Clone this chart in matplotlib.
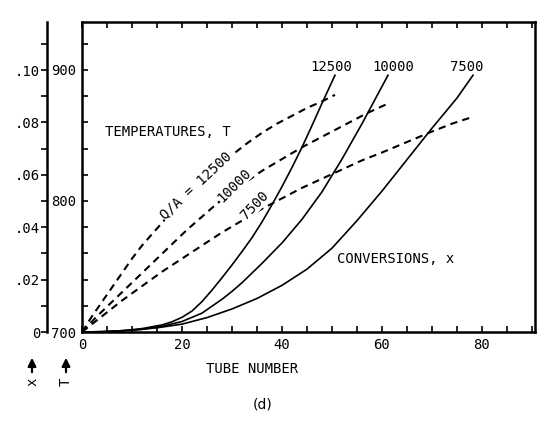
import numpy as np
import matplotlib
matplotlib.use('Agg')
import matplotlib.pyplot as plt
from matplotlib.ticker import MultipleLocator

plt.rcParams['font.family'] = 'DejaVu Sans Mono'
plt.rcParams['font.size'] = 10

# temperature curves (dashed), T vs tube number
tube_t12500 = [0, 2, 4, 6, 8, 10, 12, 15, 18, 21, 24, 27, 30, 33, 36, 39, 42, 45, 48, 50.6]
temp_12500 = [700, 712, 723, 734, 745, 756, 766, 779, 792, 804, 815, 825, 835, 844, 852, 859, 865, 871, 876, 881]
tube_t10000 = [0, 3, 6, 9, 12, 15, 18, 21, 24, 27, 30, 33, 36, 40, 44, 48, 52, 57, 61]
temp_10000 = [700, 712, 723, 734, 745, 756, 767, 778, 788, 798, 807, 815, 823, 832, 841, 849, 857, 867, 874]
tube_t7500 = [0, 4, 8, 12, 16, 20, 24, 28, 32, 36, 40, 44, 48, 52, 56, 60, 65, 70, 74, 78]
temp_7500 = [700, 712, 724, 735, 746, 756, 766, 776, 785, 794, 802, 810, 817, 824, 831, 837, 845, 853, 859, 864]

# conversion curves (solid), x vs tube number
tube_x12500 = [0, 4, 8, 12, 16, 18, 20, 22, 24, 26, 28, 30, 32, 34, 36, 38, 40, 42, 44, 46, 48, 50.6]
conv_12500 = [0, 0.0001, 0.0005, 0.0013, 0.0027, 0.0039, 0.0056, 0.0080, 0.0116, 0.0160, 0.0207,
              0.0256, 0.0307, 0.0360, 0.0420, 0.0486, 0.0555, 0.0628, 0.0705, 0.0788, 0.0873, 0.098]
tube_x10000 = [0, 4, 8, 12, 16, 20, 24, 28, 30, 32, 36, 40, 44, 48, 52, 56, 61.2]
conv_10000 = [0, 0.0001, 0.0004, 0.0010, 0.0022, 0.0040, 0.0072, 0.0125, 0.0155, 0.0188, 0.0262,
              0.0340, 0.0430, 0.0535, 0.0660, 0.0795, 0.098]
tube_x7500 = [0, 5, 10, 15, 20, 25, 30, 35, 40, 45, 50, 55, 60, 65, 70, 75, 78.2]
conv_7500 = [0, 0.0002, 0.0007, 0.0016, 0.0030, 0.0055, 0.0088, 0.0128, 0.0178, 0.0240, 0.0320,
             0.0425, 0.0538, 0.0658, 0.0778, 0.0893, 0.098]

x_ticks = [0, 20, 40, 60, 80]
t_ticks = [700, 800, 900]
conv_ticks = [0, 0.02, 0.04, 0.06, 0.08, 0.10]
conv_labels = ['0', '.02', '.04', '.06', '.08', '.10']

fig = plt.figure(figsize=(5.44, 4.21), dpi=100)
ax = fig.add_axes([82 / 544, 89 / 421, 453 / 544, 310 / 421])

lw_dash = 1.5
ax.plot(tube_t12500, temp_12500, color='black', lw=lw_dash, dashes=(3.5, 2.5))
ax.plot(tube_t10000, temp_10000, color='black', lw=lw_dash, dashes=(3.5, 2.5))
ax.plot(tube_t7500, temp_7500, color='black', lw=lw_dash, dashes=(3.5, 2.5))

ax.set_xlim(0, 90.6)
ax.set_ylim(700, 936.6)
ax.set_xticks(x_ticks)
ax.xaxis.set_minor_locator(MultipleLocator(5))
ax.set_yticks(t_ticks)
ax.yaxis.set_minor_locator(MultipleLocator(20))
ax.tick_params(which='both', direction='in', top=True, right=True, length=4, width=1.2, pad=4)
for s in ax.spines.values():
    s.set_linewidth(1.8)

# labels on temperature lines
box = dict(facecolor='white', edgecolor='none', pad=0.3)
ax.text(22.8, 812, 'Q/A = 12500', rotation=43, ha='center', va='center', bbox=box)
ax.text(30.4, 812, '10000', rotation=45, ha='center', va='center', bbox=box)
ax.text(34.6, 797, '7500', rotation=46, ha='center', va='center', bbox=box)

ax.text(4.6, 853, 'TEMPERATURES, T', ha='left', va='center')
ax.text(51, 756, 'CONVERSIONS, x', ha='left', va='center')
ax.text(49.8, 902, '12500', ha='center', va='center')
ax.text(62.2, 902, '10000', ha='center', va='center')
ax.text(77, 902, '7500', ha='center', va='center')

# conversions on their own scale
ax2 = ax.twinx()
ax2.plot(tube_x12500, conv_12500, color='black', lw=1.2)
ax2.plot(tube_x10000, conv_10000, color='black', lw=1.2)
ax2.plot(tube_x7500, conv_7500, color='black', lw=1.2)
ax2.set_ylim(0, 310 / 2620)
ax2.spines['right'].set_visible(False)
ax2.spines['top'].set_visible(False)
ax2.spines['bottom'].set_visible(False)
ax2.spines['left'].set_position(('axes', -35 / 453))
ax2.spines['left'].set_linewidth(1.8)
ax2.yaxis.set_ticks_position('left')
ax2.yaxis.set_label_position('left')
ax2.set_yticks(conv_ticks, conv_labels)
ax2.yaxis.set_minor_locator(MultipleLocator(0.01))
ax2.tick_params(which='both', direction='out', length=4, width=1.2, pad=1)

fig.text(252 / 544, 1 - 369 / 421, 'TUBE NUMBER', ha='center', va='center')
fig.text(263 / 544, 1 - 404 / 421, '(d)', ha='center', va='center', family='DejaVu Sans', fontsize=10)

# arrows marking the two vertical scales
for xp, lab in [(32, 'x'), (66, 'T')]:
    ax.annotate('', xy=(xp, 421 - 355), xytext=(xp, 421 - 375), xycoords='figure pixels',
                textcoords='figure pixels',
                arrowprops=dict(arrowstyle='-|>', color='black', lw=1.6, mutation_scale=12))
    fig.text(xp / 544, 1 - 382 / 421, lab, rotation=90, ha='center', va='center')

fig.savefig('out.png', dpi=100)
